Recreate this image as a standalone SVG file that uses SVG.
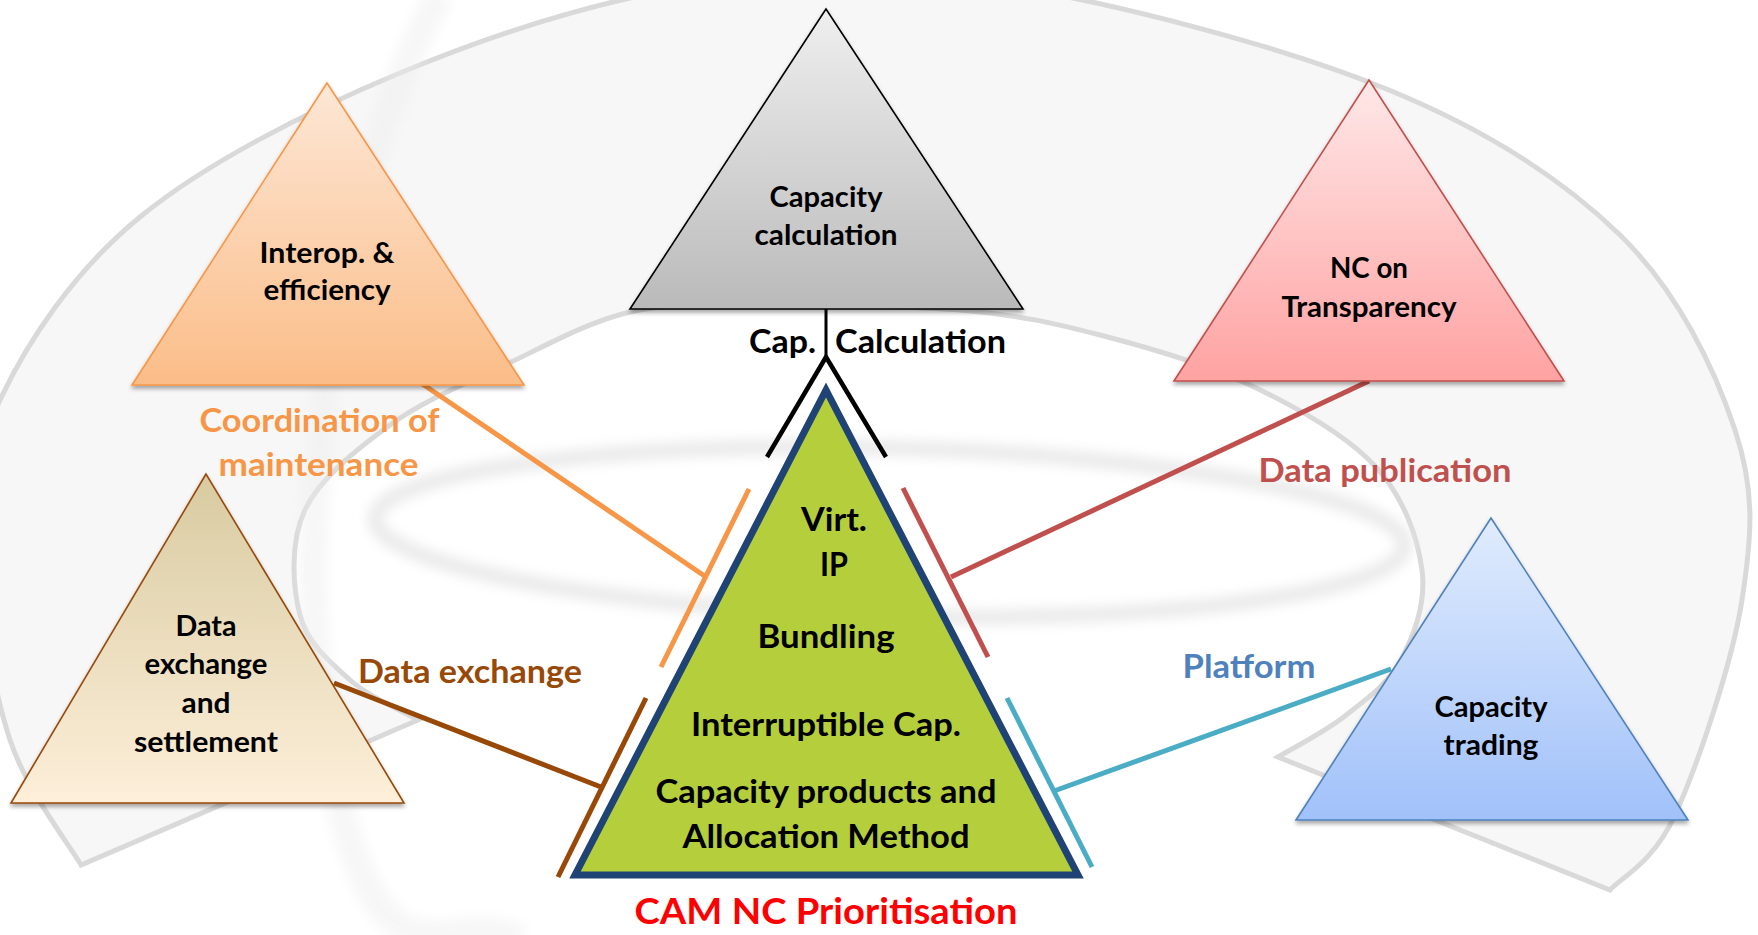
<svg xmlns="http://www.w3.org/2000/svg" width="1758" height="935" viewBox="0 0 1758 935">
<defs>
<linearGradient id="gGray" x1="0" y1="0" x2="0" y2="1"><stop offset="0" stop-color="#efefef"/><stop offset="1" stop-color="#bababa"/></linearGradient>
<linearGradient id="gOrange" x1="0" y1="0" x2="0" y2="1"><stop offset="0" stop-color="#fde7d6"/><stop offset="1" stop-color="#fbbd88"/></linearGradient>
<linearGradient id="gPink" x1="0" y1="0" x2="0" y2="1"><stop offset="0" stop-color="#fee8e8"/><stop offset="1" stop-color="#ffa2a2"/></linearGradient>
<linearGradient id="gTan" x1="0" y1="0" x2="0" y2="1"><stop offset="0" stop-color="#d8cba1"/><stop offset="1" stop-color="#fdefd9"/></linearGradient>
<linearGradient id="gBlue" x1="0" y1="0" x2="0" y2="1"><stop offset="0" stop-color="#e0ecfd"/><stop offset="1" stop-color="#a1c1fa"/></linearGradient>
<filter id="sh" x="-10%" y="-10%" width="120%" height="125%"><feDropShadow dx="0" dy="3" stdDeviation="2" flood-color="#000" flood-opacity="0.35"/></filter>
<filter id="blur" x="-20%" y="-50%" width="140%" height="200%"><feGaussianBlur stdDeviation="6"/></filter>
</defs>
<style>
.t{font-family:Lato,'Liberation Sans',sans-serif;font-weight:bold;text-anchor:middle;fill:#000}
.s28{font-size:28px}
.s33{font-size:33px}
.s38{font-size:37px}
.tri{stroke-width:1.6;stroke-linejoin:miter}
.c{fill:none;stroke-width:5;stroke-linecap:butt}
</style>
<rect width="1758" height="935" fill="#ffffff"/>
<g id="watermark">
<path d="M 81 865 C 69.2 844.2 26.8 790.8 10 740 C -6.8 689.2 -18.3 616.7 -20 560 C -21.7 503.3 -26.7 457.2 0 400 C 26.7 342.8 73.3 271.5 140 217 C 206.7 162.5 306.7 111.7 400 73 C 493.3 34.3 600 -0.3 700 -15 C 800 -29.7 886 -32.2 1000 -15 C 1114 2.2 1280.7 46.3 1384 88 C 1487.3 129.7 1561.5 178 1620 235 C 1678.5 292 1714.7 369.2 1735 430 C 1755.3 490.8 1752 535.8 1742 600 C 1732 664.2 1697 766.7 1675 815 C 1653 863.3 1620.8 877.5 1610 890 L 1278 757 C 1289.2 750.2 1324.5 732.2 1345 716 C 1365.5 699.8 1388.2 684.3 1401 660 C 1413.8 635.7 1426.3 602.3 1422 570 C 1417.7 537.7 1403.7 496.8 1375 466 C 1346.3 435.2 1295.8 406.8 1250 385 C 1204.2 363.2 1148.3 347.5 1100 335 C 1051.7 322.5 1016.7 314.8 960 310 C 903.3 305.2 815 305.7 760 306 C 705 306.3 672.5 302.2 630 312 C 587.5 321.8 545 346.2 505 365 C 465 383.8 423.3 400.8 390 425 C 356.7 449.2 320 478.3 305 510 C 290 541.7 292.5 586.7 300 615 C 307.5 643.3 330.3 662.5 350 680 C 369.7 697.5 406.7 713.3 418 720 Z" fill="#f7f7f7" stroke="#d9d9d9" stroke-width="5" stroke-linejoin="miter"/>
<ellipse cx="890" cy="532" rx="515" ry="84" transform="rotate(1.5 890 532)" fill="none" stroke="#ebebeb" stroke-width="16" filter="url(#blur)"/>
<path d="M 440 -5 C 350 150 280 500 330 760 S 450 900 520 940" fill="none" stroke="#ededed" stroke-width="28" filter="url(#blur)" opacity="0.45"/>
</g>
<g id="connectors">
<line x1="826" y1="309" x2="826" y2="358" stroke="#000" stroke-width="3"/>
<polyline points="767,457 826,357 886,457" fill="none" stroke="#000" stroke-width="4.5" stroke-linejoin="miter"/>
<line class="c" x1="421" y1="383" x2="706" y2="577" stroke="#f79646"/>
<line class="c" x1="749" y1="489" x2="661" y2="667" stroke="#f79646"/>
<line class="c" x1="1369" y1="381" x2="951" y2="577" stroke="#c0504d"/>
<line class="c" x1="903" y1="488" x2="988" y2="657" stroke="#c0504d"/>
<line class="c" x1="334" y1="683" x2="601" y2="787" stroke="#984807"/>
<line class="c" x1="646" y1="698" x2="558" y2="877" stroke="#984807"/>
<line class="c" x1="1391" y1="669" x2="1054" y2="791" stroke="#4bacc6"/>
<line class="c" x1="1007" y1="698" x2="1092" y2="867" stroke="#4bacc6"/>
</g>
<g id="node-capacity-calculation">
<polygon class="tri" points="826,9 630,309 1023,309" fill="url(#gGray)" stroke="#000" filter="url(#sh)"/>
<text class="t s28" x="826" y="207" textLength="113" lengthAdjust="spacingAndGlyphs">Capacity</text>
<text class="t s28" x="826" y="245" textLength="143" lengthAdjust="spacingAndGlyphs">calculation</text>
</g>
<g id="node-interop">
<polygon class="tri" points="327,83 132,385 524,385" fill="url(#gOrange)" stroke="#f79646" stroke-width="2" filter="url(#sh)"/>
<text class="t s28" x="327" y="263" textLength="135" lengthAdjust="spacingAndGlyphs">Interop. &amp;</text>
<text class="t s28" x="327" y="300" textLength="127" lengthAdjust="spacingAndGlyphs">efficiency</text>
</g>
<g id="node-transparency">
<polygon class="tri" points="1369,80 1174,381 1564,381" fill="url(#gPink)" stroke="#c0504d" filter="url(#sh)"/>
<text class="t s28" x="1369" y="278" textLength="78" lengthAdjust="spacingAndGlyphs">NC on</text>
<text class="t s28" x="1369" y="317" textLength="175" lengthAdjust="spacingAndGlyphs">Transparency</text>
</g>
<g id="node-data-exchange">
<polygon class="tri" points="206,474 11,803 404,803" fill="url(#gTan)" stroke="#984807" filter="url(#sh)"/>
<text class="t s28" x="206" y="636" textLength="61" lengthAdjust="spacingAndGlyphs">Data</text>
<text class="t s28" x="206" y="674" textLength="123" lengthAdjust="spacingAndGlyphs">exchange</text>
<text class="t s28" x="206" y="713" textLength="49" lengthAdjust="spacingAndGlyphs">and</text>
<text class="t s28" x="206" y="752" textLength="144" lengthAdjust="spacingAndGlyphs">settlement</text>
</g>
<g id="node-capacity-trading">
<polygon class="tri" points="1491,518 1296,820 1688,820" fill="url(#gBlue)" stroke="#4f81bd" filter="url(#sh)"/>
<text class="t s28" x="1491" y="717" textLength="113" lengthAdjust="spacingAndGlyphs">Capacity</text>
<text class="t s28" x="1491" y="755" textLength="95" lengthAdjust="spacingAndGlyphs">trading</text>
</g>
<g id="node-cam">
<polygon points="826,390 575,875 1078,875" fill="#b4cf3b" stroke="#1f4374" stroke-width="7" stroke-linejoin="miter"/>
<text class="t s33" x="834" y="531" textLength="66" lengthAdjust="spacingAndGlyphs">Virt.</text>
<text class="t s33" x="834" y="576" textLength="28" lengthAdjust="spacingAndGlyphs">IP</text>
<text class="t s33" x="826" y="648" textLength="137" lengthAdjust="spacingAndGlyphs">Bundling</text>
<text class="t s33" x="826" y="736" textLength="270" lengthAdjust="spacingAndGlyphs">Interruptible Cap.</text>
<text class="t s33" x="826" y="803" textLength="341" lengthAdjust="spacingAndGlyphs">Capacity products and</text>
<text class="t s33" x="826" y="848" textLength="287" lengthAdjust="spacingAndGlyphs">Allocation Method</text>
<text class="t s38" x="826" y="924" style="fill:#ff0000" textLength="383" lengthAdjust="spacingAndGlyphs">CAM NC Prioritisation</text>
</g>
<g id="labels">
<text class="t s33" x="782.5" y="353" textLength="67" lengthAdjust="spacingAndGlyphs">Cap.</text>
<text class="t s33" x="920.5" y="353" textLength="171" lengthAdjust="spacingAndGlyphs">Calculation</text>
<text class="t s33" x="319.5" y="432" style="fill:#f79646" textLength="240" lengthAdjust="spacingAndGlyphs">Coordination of</text>
<text class="t s33" x="318.5" y="476" style="fill:#f79646" textLength="200" lengthAdjust="spacingAndGlyphs">maintenance</text>
<text class="t s33" x="1385" y="482" style="fill:#c0504d" textLength="253" lengthAdjust="spacingAndGlyphs">Data publication</text>
<text class="t s33" x="470" y="683" style="fill:#984807" textLength="224" lengthAdjust="spacingAndGlyphs">Data exchange</text>
<text class="t s33" x="1249" y="678" style="fill:#4f81bd" textLength="133" lengthAdjust="spacingAndGlyphs">Platform</text>
</g>
</svg>
